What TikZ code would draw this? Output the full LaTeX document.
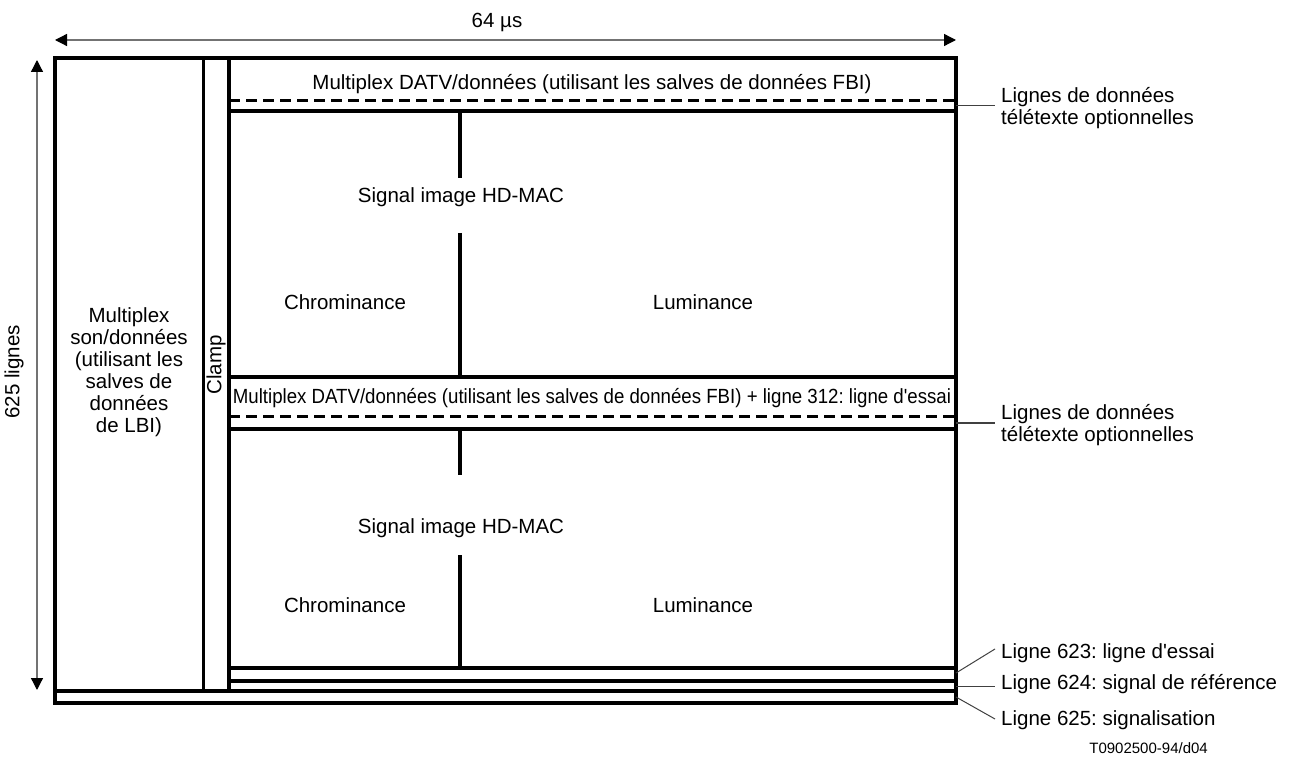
\documentclass[tikz,border=0pt]{standalone}
\usepackage{fontspec}
\setmainfont{Liberation Sans}
\usetikzlibrary{arrows.meta}
\begin{document}
\frenchspacing
\begin{tikzpicture}[x=1pt,y=-1pt,
  frame/.style={line width=3.2pt},
  dashline/.style={line width=3pt, dash pattern=on 11pt off 6pt},
  txt/.style={font=\fontsize{20.5}{22}\selectfont, inner sep=0pt},
  rlbl/.style={txt, anchor=west, inner sep=3pt, align=left},
  lead/.style={draw=black!75, line width=1pt},
  dimarrow/.style={draw=black!55, line width=1.3pt,
     {Triangle[length=12pt,width=12pt,color=black]}-{Triangle[length=12pt,width=12pt,color=black]}}]
\useasboundingbox (0,0) rectangle (1294,767);

% geometry
\coordinate (TL) at (55,58);
\coordinate (BR) at (956,703);

% outer frame and structure
\draw[frame] (TL) rectangle (BR);
\draw[frame] (203.5,58) -- (203.5,691);
\draw[frame] (229,58) -- (229,691);
\draw[frame] (55,691) -- (956,691);
\draw[frame] (229,668) -- (956,668);
\draw[frame] (229,681) -- (956,681);
\draw[frame] (229,111) -- (956,111);
\draw[frame] (229,377) -- (956,377);
\draw[frame] (229,429) -- (956,429);
\draw[dashline] (229,100.5) -- (956,100.5);
\draw[dashline] (229,417) -- (956,417);
\draw[frame] (460,111) -- (460,178);
\draw[frame] (460,233) -- (460,377);
\draw[frame] (460,429) -- (460,475);
\draw[frame] (460,555) -- (460,668);

% dimension arrows
\coordinate (hA) at (55,40);
\coordinate (hB) at (956,40);
\coordinate (vA) at (37,60);
\coordinate (vB) at (37,690);
\draw[dimarrow] (hA) -- (hB);
\draw[dimarrow] (vA) -- (vB);
\node[txt] (t64) at (497,22) {64 µs};
\node[txt, rotate=90] (t625) at (14,372) {625 lignes};

% texts in the frame
\node[txt] (mux1) at (592,84) {Multiplex DATV/données (utilisant les salves de données FBI)};
\node[txt] (sig1) at (461,197) {Signal image HD-MAC};
\node[txt] (chr1) at (345,302) {Chrominance};
\node[txt] (lum1) at (703,302) {Luminance};
\node[txt] (mux2) at (592,398) {\scalebox{0.91}[1]{Multiplex DATV/données (utilisant les salves de données FBI) + ligne 312: ligne d\textquotesingle essai}};
\node[txt] (sig2) at (461,528) {Signal image HD-MAC};
\node[txt] (chr2) at (345,605) {Chrominance};
\node[txt] (lum2) at (703,605) {Luminance};
\node[txt, align=center] (sonmux) at (129,372) {Multiplex\\son/données\\(utilisant les\\salves de\\données\\de LBI)};
\node[txt, rotate=90] (clamp) at (216,365) {Clamp};

% right labels
\node[rlbl] (tt1) at (998,108) {Lignes de données\\télétexte optionnelles};
\node[rlbl] (tt2) at (998,425) {Lignes de données\\télétexte optionnelles};
\node[rlbl] (l623) at (998,653) {Ligne 623: ligne d\textquotesingle essai};
\node[rlbl] (l624) at (998,684) {Ligne 624: signal de référence};
\node[rlbl] (l625) at (998,720) {Ligne 625: signalisation};
\node[font=\fontsize{15}{17}\selectfont, inner sep=0pt, anchor=east] (code) at (1208,748) {T0902500-94/d04};

% leaders
\coordinate (p1) at (956,106);
\coordinate (p2) at (956,423);
\coordinate (p3) at (956,673);
\coordinate (p4) at (956,686);
\coordinate (p5) at (956,697);
\coordinate (q1) at (995,106);
\coordinate (q2) at (995,423);
\coordinate (q3) at (995,649);
\coordinate (q4) at (995,686);
\coordinate (q5) at (995,719);
\draw[lead] (p1) -- (q1);
\draw[lead] (p2) -- (q2);
\draw[lead] (p3) -- (q3);
\draw[lead] (p4) -- (q4);
\draw[lead] (p5) -- (q5);
\end{tikzpicture}
\end{document}
